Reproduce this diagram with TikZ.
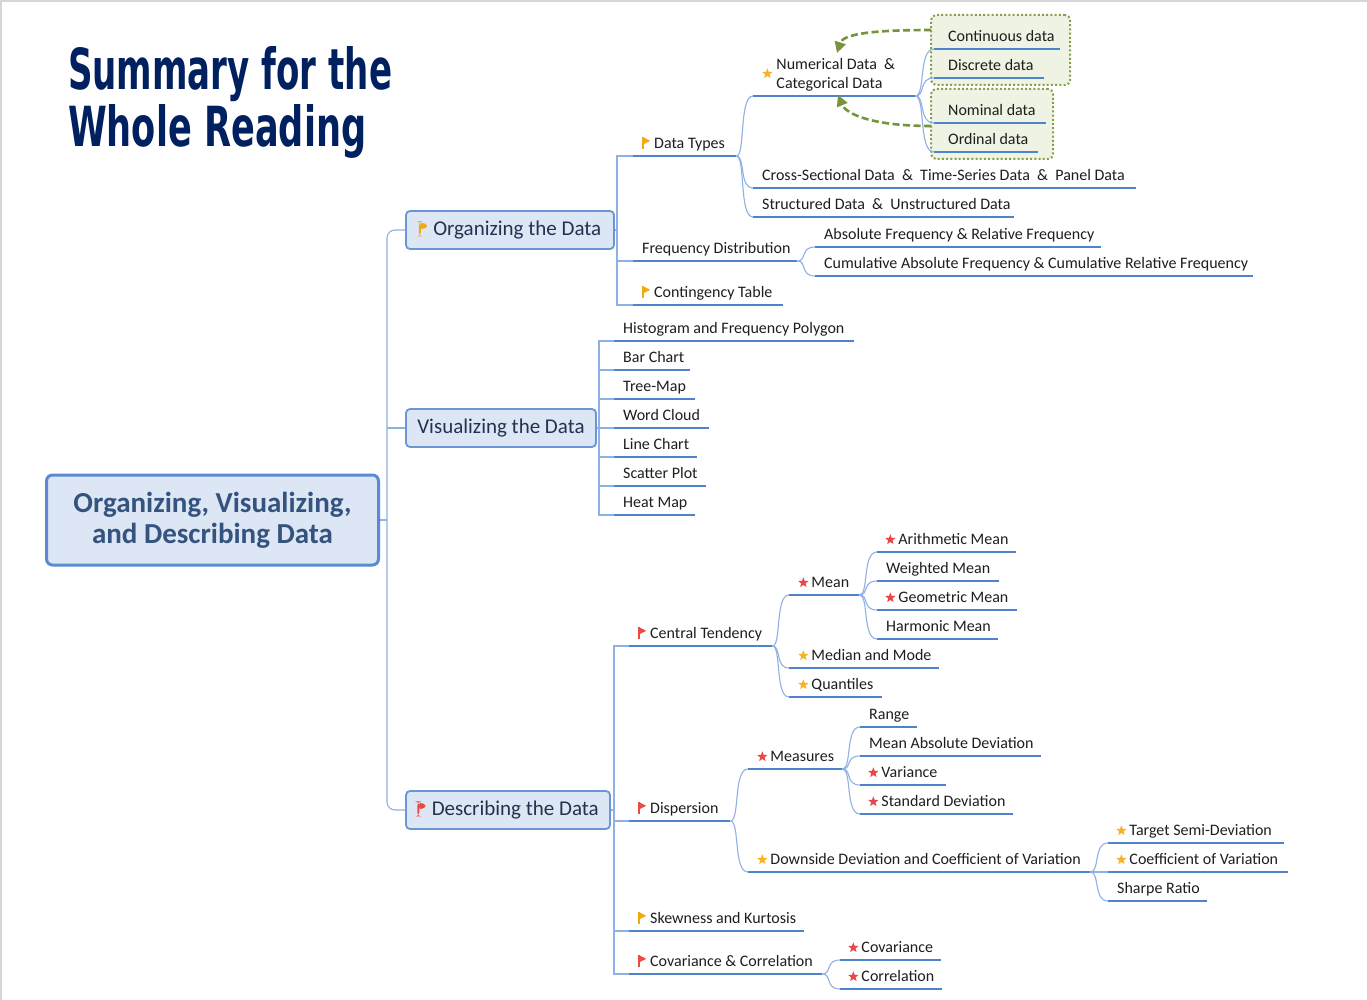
\documentclass[tikz,border=0pt]{standalone}
\usepackage{fontspec}
\setmainfont{Carlito}
\newfontfamily\titlef{DejaVu Sans}
\usepackage{graphicx}
\usetikzlibrary{arrows.meta,calc}
\definecolor{connc}{HTML}{8FB1E3}
\definecolor{ulc}{HTML}{4F83CC}
\definecolor{txt}{HTML}{1E1E1E}
\definecolor{boxf}{HTML}{DCE6F4}
\definecolor{boxd}{HTML}{6B96D6}
\definecolor{boxt}{HTML}{22324F}
\definecolor{rootd}{HTML}{5A8AD2}
\definecolor{roott}{HTML}{34537F}
\definecolor{navy}{HTML}{002060}
\definecolor{gline}{HTML}{77933C}
\definecolor{gdot}{HTML}{86A04A}
\definecolor{gfill}{HTML}{EEF3E3}
\definecolor{flago}{HTML}{F5A70E}
\definecolor{flagr}{HTML}{EA4B43}
\definecolor{staro}{HTML}{F7B324}
\definecolor{starr}{HTML}{E9474A}
\definecolor{framec}{HTML}{D6D6D6}
\newcommand\flagi[1]{\tikz[baseline=0pt]{\fill[#1] (0pt,-0.5pt) rectangle (1.5pt,11pt); \fill[#1] (1.2pt,11pt) -- (8pt,7.5pt) -- (1.2pt,4pt) -- cycle;}}
\newcommand\bflagi[1]{\tikz[baseline=0pt]{\fill[#1] (0pt,-1pt) rectangle (2pt,14pt); \fill[#1] (1.5pt,14pt) -- (10.5pt,9.5pt) -- (1.5pt,5pt) -- cycle;}}
\newcommand\stari[1]{\tikz[baseline=-4.6pt]{\fill[#1] (90:5.4pt) -- (126:2.3pt) -- (162:5.4pt) -- (198:2.3pt) -- (234:5.4pt) -- (270:2.3pt) -- (306:5.4pt) -- (342:2.3pt) -- (18:5.4pt) -- (54:2.3pt) -- cycle;}}
\newcommand\oflag{\flagi{flago}\hspace{4pt}}
\newcommand\rflag{\flagi{flagr}\hspace{4pt}}
\newcommand\bigoflag{\bflagi{flago}\hspace{4pt}}
\newcommand\bigrflag{\bflagi{flagr}\hspace{4pt}}
\newcommand\ostar{\stari{staro}\hspace{3pt}}
\newcommand\rstar{\stari{starr}\hspace{3pt}}
\newcommand\tp[3][9]{\makebox[#2pt][l]{\hspace*{#1pt}#3}}
\newcommand\crv[2]{\draw[conn] let \p1=(#1.south east), \p2=(#2.south west) in (\p1) .. controls ({\x1+0.55*(\x2-\x1)},\y1) and ({\x1+0.15*(\x2-\x1)},\y2) .. (\p2);}
\begin{document}
\begin{tikzpicture}[x=1pt,y=-1pt,
  conn/.style={draw=connc, line width=1.1pt},
  uline/.style={draw=ulc, line width=2.6pt},
  topic/.style={anchor=south west, inner xsep=0pt, inner ysep=0pt, text height=11pt, text depth=7.5pt, font=\fontsize{16}{19}\selectfont, text=txt},
  l1box/.style={draw=boxd, line width=1.8pt, fill=boxf, rounded corners=4pt, minimum height=38pt, inner sep=0pt, font=\fontsize{21}{25}\selectfont, text=boxt},
  rootbox/.style={draw=rootd, line width=3pt, fill=boxf, rounded corners=6pt, minimum width=332pt, minimum height=90pt, align=center, inner sep=0pt, font=\fontsize{29}{31}\selectfont\bfseries, text=roott},
  gbox/.style={draw=gdot, fill=gfill, line width=2pt, dash pattern=on 2pt off 2.2pt, rounded corners=5pt, inner sep=0pt},
  garr/.style={draw=gline, line width=2.6pt, dash pattern=on 7pt off 3.5pt, -{Triangle[length=11pt,width=11pt]}},
  ttl/.style={anchor=base west, inner sep=0pt, text=navy}]
\useasboundingbox (0,0) rectangle (1367,1000);
\fill[white] (0,0) rectangle (1367,1000);
\draw[framec, line width=1.5pt] (0,1) -- (1367,1);
\draw[framec, line width=1.5pt] (1,0) -- (1,1000);

% title
\node[ttl] (t1) at (68,90) {\resizebox{324pt}{43pt}{\titlef\bfseries Summary for the}};
\node[ttl] (t2) at (68,147) {\resizebox{298pt}{42pt}{\titlef\bfseries Whole Reading}};

% green groups
\node[gbox, minimum width=139pt, minimum height=70pt] (g1) at (1000.5,50) {};
\node[gbox, minimum width=122pt, minimum height=70pt] (g2) at (992,124) {};

% root and level 1
\node[rootbox] (root) at (212.5,520) {Organizing, Visualizing,\\and Describing Data};
\node[l1box, minimum width=208pt] (org) at (510,230) {\bigoflag Organizing the Data};
\node[l1box, minimum width=190pt] (vis) at (501,428) {Visualizing the Data};
\node[l1box, minimum width=204pt] (des) at (508,810) {\bigrflag Describing the Data};

% organizing
\node[topic] (dt) at (633,156) {\tp{103}{\oflag Data Types}};
\node[topic] (fd) at (633,261) {\tp{164}{Frequency Distribution}};
\node[topic] (ct) at (633,305) {\tp{150}{\oflag Contingency Table}};
\node[topic] (nc) at (753,96) {\makebox[162pt][l]{\hspace*{9pt}\raisebox{10pt}{\ostar}\hspace{1pt}\begin{tabular}[b]{@{}l@{}}Numerical Data\ \ \&\\Categorical Data\end{tabular}}};
\node[topic] (cs) at (753,188) {\tp{383}{Cross-Sectional Data\ \ \&\ \ Time-Series Data\ \ \&\ \ Panel Data}};
\node[topic] (sd) at (753,217) {\tp{261}{Structured Data\ \ \&\ \ Unstructured Data}};
\node[topic] (cd) at (934,49) {\tp[14]{126}{Continuous data}};
\node[topic] (dd) at (934,78) {\tp[14]{110}{Discrete data}};
\node[topic] (nd) at (934,123) {\tp[14]{112}{Nominal data}};
\node[topic] (od) at (934,152) {\tp[14]{104}{Ordinal data}};
\node[topic] (af) at (815,247) {\tp{286}{Absolute Frequency \& Relative Frequency}};
\node[topic] (cf) at (815,276) {\tp{438}{Cumulative Absolute Frequency \& Cumulative Relative Frequency}};

% visualizing
\node[topic] (hg) at (614,341) {\tp{240}{Histogram and Frequency Polygon}};
\node[topic] (bc) at (614,370) {\tp{76}{Bar Chart}};
\node[topic] (tm) at (614,399) {\tp{81}{Tree-Map}};
\node[topic] (wc) at (614,428) {\tp{95}{Word Cloud}};
\node[topic] (lc) at (614,457) {\tp{83}{Line Chart}};
\node[topic] (sp) at (614,486) {\tp{92}{Scatter Plot}};
\node[topic] (hm) at (614,515) {\tp{81}{Heat Map}};

% describing
\node[topic] (ctn) at (629,646) {\tp{143}{\rflag Central Tendency}};
\node[topic] (dis) at (629,821) {\tp{101}{\rflag Dispersion}};
\node[topic] (sk) at (629,931) {\tp{175}{\oflag Skewness and Kurtosis}};
\node[topic] (cc) at (629,974) {\tp{193}{\rflag Covariance \& Correlation}};
\node[topic] (mean) at (789,595) {\tp{70}{\rstar Mean}};
\node[topic] (mm) at (789,668) {\tp{150}{\ostar Median and Mode}};
\node[topic] (qt) at (789,697) {\tp{93}{\ostar Quantiles}};
\node[topic] (am) at (877,552) {\tp[8]{139}{\rstar Arithmetic Mean}};
\node[topic] (wm) at (877,581) {\tp{122}{Weighted Mean}};
\node[topic] (gm) at (877,610) {\tp[8]{140}{\rstar Geometric Mean}};
\node[topic] (hmn) at (877,639) {\tp{121}{Harmonic Mean}};
\node[topic] (ms) at (748,769) {\tp{94}{\rstar Measures}};
\node[topic] (dsd) at (748,872) {\tp{342}{\ostar Downside Deviation and Coefficient of Variation}};
\node[topic] (rg) at (860,727) {\tp{57}{Range}};
\node[topic] (mad) at (860,756) {\tp{181}{Mean Absolute Deviation}};
\node[topic] (var) at (860,785) {\tp[8]{86}{\rstar Variance}};
\node[topic] (sdv) at (860,814) {\tp[8]{153}{\rstar Standard Deviation}};
\node[topic] (tsd) at (1108,843) {\tp[8]{176}{\ostar Target Semi-Deviation}};
\node[topic] (cv) at (1108,872) {\tp[8]{180}{\ostar Coefficient of Variation}};
\node[topic] (sr) at (1108,901) {\tp{99}{Sharpe Ratio}};
\node[topic] (cov) at (840,960) {\tp[8]{101}{\rstar Covariance}};
\node[topic] (cor) at (840,989) {\tp[8]{102}{\rstar Correlation}};

% underlines
\foreach \n in {dt,fd,ct,nc,cs,sd,cd,dd,nd,od,af,cf,hg,bc,tm,wc,lc,sp,hm,ctn,dis,sk,cc,mean,mm,qt,am,wm,gm,hmn,ms,dsd,rg,mad,var,sdv,tsd,cv,sr,cov,cor}
  \draw[uline] (\n.south west) -- (\n.south east);

% trunk
\coordinate (tr) at (387,520);
\draw[conn] (root.east) -- (tr);
\draw[conn, rounded corners=8pt] (org.west) -- (org.west -| tr) -- (des.west -| tr) -- (des.west);
\draw[conn] (vis.west -| tr) -- (vis.west);

% organizing connectors
\coordinate (ov) at (617,230);
\draw[conn] (org.east) -- (ov);
\draw[conn] (dt.south west) -- (dt.south west -| ov) -- (ct.south west -| ov) -- (ct.south west);
\draw[conn] (fd.south west) -- (fd.south west -| ov);
\crv{dt}{nc} \crv{dt}{cs} \crv{dt}{sd}
\crv{nc}{cd} \crv{nc}{dd} \crv{nc}{nd} \crv{nc}{od}
\crv{fd}{af} \crv{fd}{cf}

% visualizing connectors
\coordinate (vv) at (599,428);
\draw[conn] (vis.east) -- (vv);
\draw[conn] (hg.south west) -- (hg.south west -| vv) -- (hm.south west -| vv) -- (hm.south west);
\foreach \n in {bc,tm,wc,lc,sp} \draw[conn] (\n.south west) -- (\n.south west -| vv);

% describing connectors
\coordinate (dv) at (614,810);
\draw[conn] (des.east) -- (dv);
\draw[conn] (ctn.south west) -- (ctn.south west -| dv) -- (cc.south west -| dv) -- (cc.south west);
\draw[conn] (dis.south west) -- (dis.south west -| dv);
\draw[conn] (sk.south west) -- (sk.south west -| dv);
\crv{ctn}{mean} \crv{ctn}{mm} \crv{ctn}{qt}
\crv{mean}{am} \crv{mean}{wm} \crv{mean}{gm} \crv{mean}{hmn}
\crv{dis}{ms} \crv{dis}{dsd}
\crv{ms}{rg} \crv{ms}{mad} \crv{ms}{var} \crv{ms}{sdv}
\crv{dsd}{tsd} \crv{dsd}{cv} \crv{dsd}{sr}
\crv{cc}{cov} \crv{cc}{cor}

% green arrows
\coordinate (a1s) at (931,30);
\coordinate (a1e) at (837,53);
\coordinate (a2s) at (931,126);
\coordinate (a2e) at (838,95);
\draw[garr] (a1s) .. controls (872,30) and (843,34) .. (a1e);
\draw[garr] (a2s) .. controls (872,126) and (846,114) .. (a2e);
\end{tikzpicture}
\end{document}
